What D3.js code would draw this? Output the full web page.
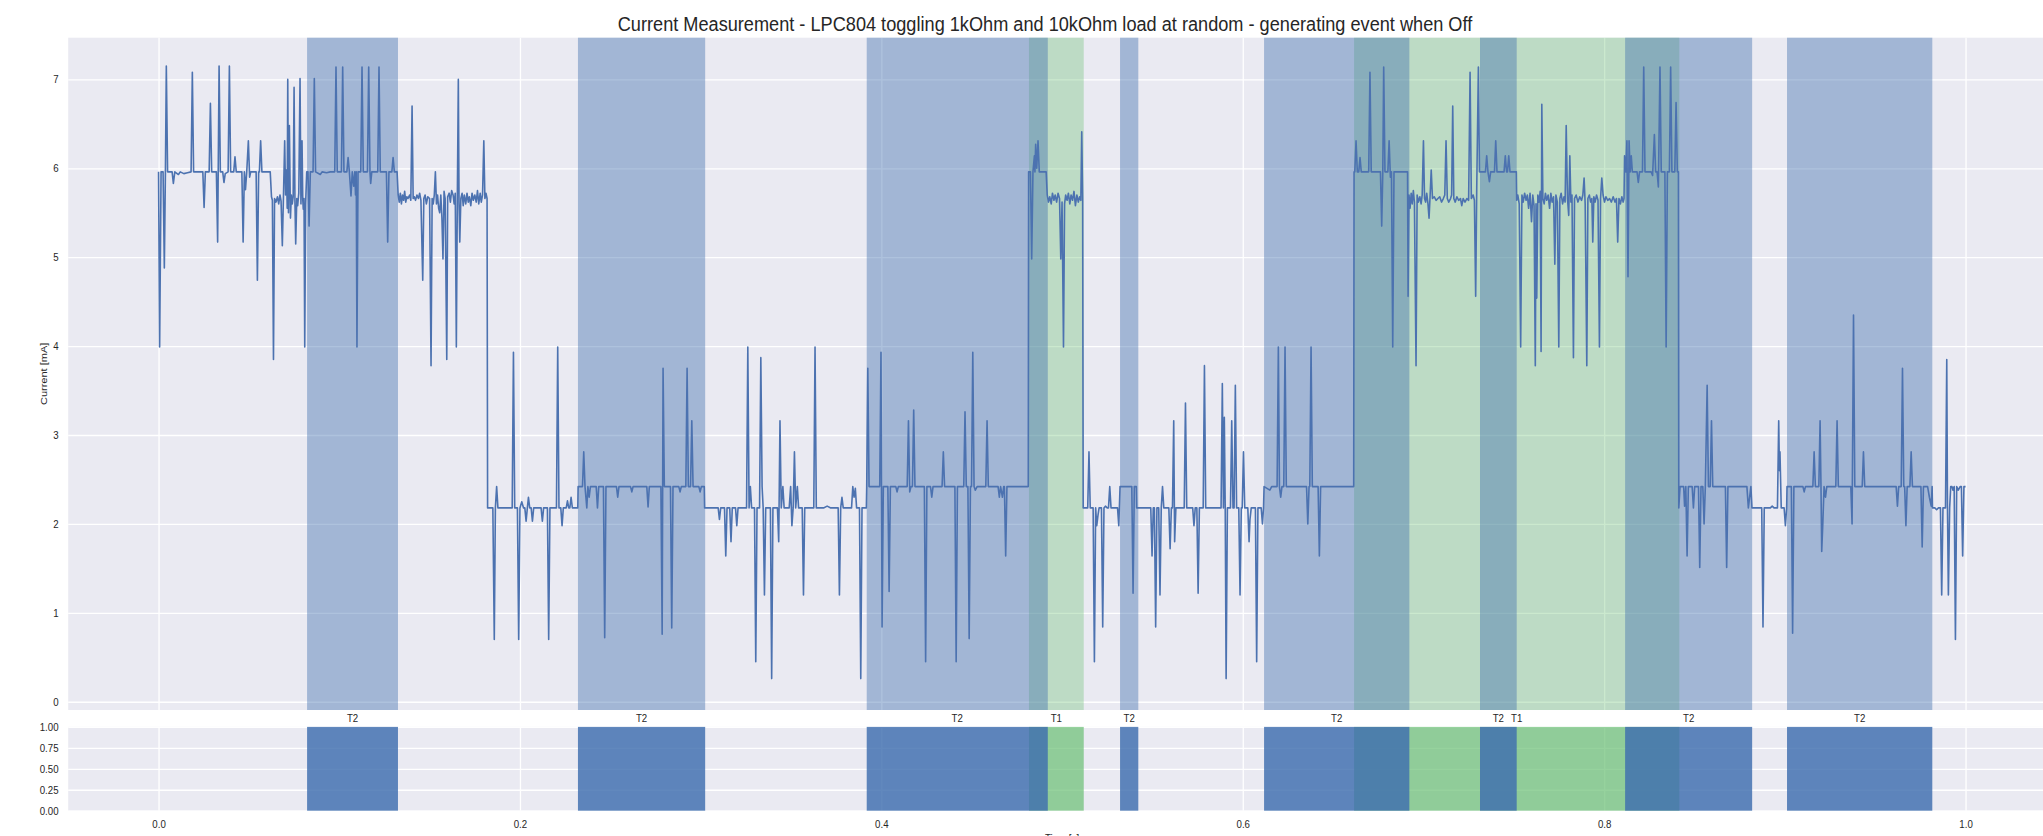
<!DOCTYPE html>
<html>
<head>
<meta charset="utf-8">
<script src="https://cdn.jsdelivr.net/npm/d3@7"></script>
<style>
  html, body { margin: 0; padding: 0; background: #fff; overflow: hidden; }
  svg { display: block; }
  text { font-family: "Liberation Sans", Arial, sans-serif; fill: #262626; }
</style>
</head>
<body>
<svg id="chart" width="2043" height="836"></svg>
<script>
// ---- labels and ticks ----
const chartTitle = "Current Measurement - LPC804 toggling 1kOhm and 10kOhm load at random - generating event when Off";
const xLabel = "Time [s]";
const yLabel = "Current [mA]";
const timeTicks = [0, 0.2, 0.4, 0.6, 0.8, 1.0];
const currentTicks = [0, 1, 2, 3, 4, 5, 6, 7];
const stateTicks = [0, 0.25, 0.5, 0.75, 1.0];

// ---- load switching intervals [start, end] in seconds ----
const t2Spans = [[0.0822, 0.1325], [0.2321, 0.3025], [0.3919, 0.4921], [0.5321, 0.5422],
                 [0.6118, 0.6922], [0.7313, 0.7516], [0.8116, 0.8819], [0.9012, 0.9816]];
const t1Spans = [[0.4817, 0.5120], [0.6616, 0.8416]];

// ---- measured current [s, mA] ----
const trace0 = [
  [0.0000,5.96],[0.0006,3.99],[0.0014,5.96],[0.0025,5.96],[0.0032,4.88],[0.0038,5.96],[0.0043,7.15],[0.0050,5.96],
  [0.0075,5.96],[0.0082,5.83],[0.0090,5.96],[0.0110,5.93],[0.0120,5.96],[0.0140,5.94],[0.0160,5.95],
  [0.0180,5.96],[0.0187,7.08],[0.0194,5.96],[0.0245,5.96],[0.0252,5.56],[0.0259,5.96],
  [0.0280,5.96],[0.0287,6.73],[0.0294,5.96],[0.0320,5.96],[0.0327,5.17],[0.0335,7.15],[0.0342,5.96],
  [0.0355,5.96],[0.0362,5.84],[0.0369,5.94],[0.0385,5.96],[0.0392,7.15],[0.0399,5.96],
  [0.0416,5.96],[0.0423,6.13],[0.0430,5.96],[0.0461,5.96],[0.0468,5.17],[0.0475,5.96],[0.0481,5.76],[0.0488,5.96],
  [0.0497,6.31],[0.0504,5.90],[0.0510,5.96],[0.0540,5.96],[0.0547,4.74],[0.0554,5.96],
  [0.0558,5.96],[0.0565,6.31],[0.0572,5.96],[0.0618,5.96],
  [0.0625,5.68],[0.0630,5.64],[0.0636,3.85],[0.0642,5.66],[0.0650,5.62],[0.0658,5.68],[0.0665,5.60],[0.0672,5.70],
  [0.0678,5.63],[0.0685,5.13],[0.0691,5.66],[0.0698,6.31],[0.0703,5.70],[0.0708,5.98],[0.0712,5.55],[0.0715,7.00],
  [0.0719,5.50],[0.0724,6.48],[0.0730,5.44],[0.0735,5.70],[0.0740,5.60],[0.0745,5.68],[0.0750,6.91],[0.0755,5.60],
  [0.0759,5.15],[0.0765,5.66],[0.0770,5.58],[0.0776,5.72],[0.0783,7.01],[0.0788,5.60],[0.0794,6.31],[0.0798,5.65],
  [0.0801,5.54],[0.0805,5.66],[0.0809,3.99],[0.0814,5.60],
  [0.0820,5.96],[0.0827,5.96],[0.0833,5.35],[0.0840,5.96],[0.0855,5.96],[0.0862,7.01],[0.0869,5.96],[0.0895,5.93],
  [0.0905,5.96],[0.0930,5.95],[0.0950,5.96],[0.0975,5.96],[0.0982,7.14],[0.0989,5.96],[0.1012,5.96],[0.1019,7.14],
  [0.1026,5.96],[0.1042,5.96],[0.1049,6.12],[0.1056,5.96],[0.1065,5.69],[0.1072,5.96],[0.1080,5.80],[0.1086,5.96],
  [0.1090,5.70],[0.1094,5.96],[0.1098,3.99],[0.1104,5.96],[0.1119,5.96],[0.1126,7.14],[0.1133,5.96],[0.1156,5.96],
  [0.1163,7.14],[0.1170,5.96],[0.1174,5.83],[0.1180,5.96],[0.1213,5.96],[0.1220,7.14],[0.1227,5.96],[0.1261,5.96],
  [0.1268,5.17],[0.1275,5.96],[0.1291,5.96],[0.1298,6.12],[0.1305,5.96],[0.1320,5.96],
  [0.1326,5.70],[0.1332,5.62],[0.1338,5.72],[0.1344,5.60],[0.1350,5.70],[0.1356,5.64],[0.1362,5.74],[0.1368,5.62],
  [0.1374,5.68],[0.1380,5.66],[0.1390,5.70],[0.1396,5.64],[0.1403,6.70],[0.1409,5.66],[0.1415,5.68],[0.1422,5.64],
  [0.1430,5.70],[0.1438,5.66],[0.1445,5.72],[0.1452,5.64],[0.1462,4.74],[0.1468,5.66],[0.1475,5.70],[0.1482,5.60],
  [0.1490,5.68],[0.1500,5.66],[0.1508,3.78],[0.1514,5.66],[0.1520,5.60],[0.1526,5.70],[0.1532,5.96],[0.1538,5.60],
  [0.1544,5.70],[0.1550,5.55],[0.1556,5.50],[0.1562,5.70],[0.1568,5.45],[0.1574,4.98],[0.1580,5.74],[0.1586,5.66],
  [0.1595,3.85],[0.1600,5.68],[0.1608,5.72],[0.1615,5.62],[0.1622,5.75],[0.1630,5.70],[0.1636,5.60],[0.1642,5.72],
  [0.1648,3.99],[0.1654,5.80],[0.1659,7.00],[0.1663,5.60],[0.1667,5.17],[0.1673,5.66],[0.1680,5.72],[0.1686,5.58],
  [0.1692,5.70],[0.1700,5.60],[0.1707,5.72],[0.1714,5.62],[0.1720,5.68],[0.1728,5.58],[0.1735,5.72],[0.1742,5.64],
  [0.1750,5.70],[0.1758,5.62],[0.1765,5.75],[0.1772,5.60],[0.1780,5.72],[0.1786,5.62],[0.1793,5.70],[0.1800,6.31],
  [0.1806,5.66],[0.1812,5.72],[0.1818,5.66],
  [0.1821,2.18],[0.1850,2.18],[0.1858,0.70],[0.1864,2.18],[0.1871,2.42],[0.1878,2.18],[0.1957,2.18],[0.1964,3.93],
  [0.1971,2.18],[0.1986,2.18],[0.1993,0.70],[0.2000,2.18]
];
const trace1 = [
  [0.2010,2.25],[0.2020,2.18],[0.2027,2.18],[0.2034,2.03],[0.2041,2.18],[0.2047,2.30],[0.2054,2.18],[0.2062,2.18],
  [0.2069,2.03],[0.2076,2.18],[0.2117,2.18],[0.2124,2.03],[0.2131,2.18],[0.2152,2.18],[0.2159,0.70],[0.2166,2.18],
  [0.2202,2.18],[0.2209,3.99],[0.2216,2.18],[0.2226,2.18],[0.2233,1.98],[0.2240,2.18],[0.2256,2.18],[0.2263,2.26],
  [0.2270,2.18],[0.2276,2.18],[0.2283,2.30],[0.2290,2.18],[0.2320,2.18],
  [0.2322,2.42],[0.2346,2.42],[0.2353,2.81],[0.2360,2.42],[0.2370,2.18],[0.2376,2.42],[0.2383,2.30],[0.2390,2.42],
  [0.2422,2.42],[0.2429,2.18],[0.2436,2.42],[0.2462,2.42],[0.2469,0.72],[0.2476,2.42],[0.2534,2.42],[0.2541,2.30],
  [0.2548,2.42],[0.2612,2.42],[0.2619,2.36],[0.2626,2.42],[0.2702,2.42],[0.2709,2.19],[0.2716,2.42],[0.2780,2.42],
  [0.2787,0.76],[0.2792,3.75],[0.2799,2.42],[0.2833,2.42],[0.2840,0.83],[0.2847,2.42],[0.2879,2.42],[0.2886,2.36],
  [0.2893,2.42],[0.2918,2.42],[0.2925,3.75],[0.2932,2.42],[0.2944,2.42],[0.2951,3.16],[0.2958,2.42],[0.2990,2.42],
  [0.2997,2.36],[0.3004,2.42],[0.3020,2.42],
  [0.3022,2.18],[0.3097,2.18],[0.3104,2.05],[0.3111,2.18],[0.3132,2.18],[0.3139,1.64],[0.3146,2.18],[0.3161,2.18],
  [0.3168,1.80],[0.3175,2.18],[0.3193,2.18],[0.3200,1.98],[0.3207,2.18],[0.3254,2.18],[0.3261,3.99],[0.3268,2.18],
  [0.3275,2.42],[0.3282,2.18],[0.3298,2.18],[0.3305,0.45],[0.3312,2.18],[0.3326,2.18],[0.3333,3.87],[0.3340,2.42],
  [0.3346,2.18],[0.3353,1.20],[0.3360,2.18],[0.3386,2.18],[0.3393,0.26],[0.3400,2.18],[0.3425,2.18],[0.3432,1.80],
  [0.3439,3.16],[0.3446,2.18],[0.3455,2.42],[0.3462,2.18],[0.3490,2.18],[0.3498,2.42],[0.3505,1.98],[0.3512,2.18],
  [0.3519,2.81],[0.3526,2.18],[0.3535,2.42],[0.3542,2.18],[0.3562,2.18],[0.3569,1.20],[0.3576,2.18],[0.3626,2.18],
  [0.3633,3.99],[0.3640,2.18],[0.3680,2.18],[0.3700,2.20],[0.3720,2.18],[0.3761,2.18],[0.3768,1.20],[0.3775,2.18],
  [0.3782,2.30],[0.3789,2.18],[0.3835,2.18],[0.3842,2.42],[0.3849,2.30],[0.3856,2.40],[0.3863,2.18],[0.3879,2.18],
  [0.3886,0.26],[0.3893,2.18],[0.3917,2.18],
  [0.3919,2.42],[0.3925,3.75],[0.3932,2.42],[0.3991,2.42],[0.3998,3.93]
];
const trace2 = [
  [0.4004,0.84],[0.4011,2.42],[0.4036,2.42],[0.4043,1.24],[0.4050,2.42],[0.4080,2.42],[0.4087,2.36],[0.4094,2.42],
  [0.4143,2.42],[0.4150,3.16],[0.4157,2.36],[0.4164,2.42],[0.4172,2.42],[0.4179,3.28],[0.4186,2.42],[0.4238,2.42],
  [0.4245,0.45],[0.4252,2.42],[0.4272,2.42],[0.4279,2.30],[0.4286,2.42],[0.4336,2.42],[0.4343,2.81],[0.4350,2.42],
  [0.4407,2.42],[0.4414,0.45],[0.4421,2.42],[0.4456,2.42],[0.4463,3.26],[0.4470,2.42],[0.4479,2.42],[0.4486,0.71],
  [0.4493,2.42],[0.4499,2.42],[0.4506,3.93],[0.4513,2.42],[0.4520,2.38],[0.4530,2.42],[0.4578,2.42],[0.4585,3.16],
  [0.4592,2.42],[0.4646,2.42],[0.4653,2.30],[0.4660,2.42],[0.4670,2.30],[0.4677,2.42],[0.4681,2.42],[0.4688,1.64],
  [0.4695,2.42],[0.4813,2.42],
  [0.4815,5.96],[0.4825,5.96],[0.4832,4.98],[0.4839,5.96],[0.4847,6.14],[0.4850,5.96],[0.4854,6.27],[0.4860,6.00],
  [0.4867,6.31],[0.4874,5.96],[0.4912,5.96],
  [0.4918,5.70],[0.4925,5.62],[0.4932,5.68],[0.4940,5.60],[0.4947,5.72],[0.4955,5.64],[0.4962,5.70],[0.4970,5.62],
  [0.4978,5.72],[0.4986,5.66],[0.4993,4.98],[0.5000,5.62],[0.5008,3.99],[0.5014,5.60],[0.5020,5.70],[0.5028,5.64],
  [0.5035,5.72],[0.5043,5.60],[0.5050,5.70],[0.5058,5.64],[0.5066,5.74],[0.5074,5.58],[0.5082,5.70],[0.5090,5.62],
  [0.5097,5.68],[0.5104,5.64],[0.5109,6.41],[0.5114,5.66],
  [0.5117,2.18],[0.5142,2.18],[0.5149,2.81],[0.5156,2.18],[0.5172,2.18],[0.5179,0.45],[0.5186,2.18],[0.5192,1.98],
  [0.5199,2.10],[0.5205,2.18],[0.5218,2.18],[0.5225,0.84],[0.5232,2.18],[0.5240,2.20],[0.5250,2.18],[0.5257,2.18],
  [0.5264,2.42],[0.5271,2.18],[0.5307,2.18],[0.5314,1.98],
  [0.5321,2.42],[0.5386,2.42],[0.5393,1.22],[0.5400,2.42],[0.5411,2.42],
  [0.5413,2.18],[0.5491,2.18],[0.5498,1.64],[0.5505,2.18],[0.5511,2.18],[0.5518,0.84],[0.5525,2.18],[0.5535,2.18],
  [0.5542,1.20],[0.5549,2.18],[0.5556,2.42],[0.5563,2.18],[0.5591,2.18],[0.5598,1.72],[0.5605,2.18],[0.5611,2.18],
  [0.5618,3.16],[0.5623,1.80],[0.5630,2.18],[0.5676,2.18],[0.5683,3.36],[0.5690,2.18],[0.5723,2.18],[0.5730,1.98],
  [0.5737,2.18],[0.5746,2.18],[0.5753,1.22],[0.5760,2.18],[0.5781,2.18],[0.5788,3.78],[0.5795,2.18],[0.5880,2.18],
  [0.5887,3.58],[0.5893,2.18],[0.5898,3.20],[0.5903,2.18],[0.5908,0.26],[0.5915,2.18],[0.5932,2.18],[0.5939,3.16],
  [0.5946,2.18],[0.5952,2.18],[0.5959,3.56],[0.5966,2.18],[0.5978,2.18],[0.5985,1.20],[0.5992,2.18],[0.5997,2.18]
];
const trace3 = [
  [0.6004,2.81],[0.6011,2.18],[0.6028,2.18],[0.6035,1.80],[0.6040,2.05],[0.6047,2.18],[0.6070,2.18],[0.6077,0.45],
  [0.6084,2.18],[0.6102,2.18],[0.6109,2.00],[0.6115,2.18],
  [0.6118,2.42],[0.6150,2.38],[0.6160,2.42],[0.6190,2.42],[0.6197,3.99],[0.6203,2.42],[0.6210,2.30],[0.6217,2.42],
  [0.6227,2.42],[0.6234,3.99],[0.6241,2.42],[0.6353,2.42],[0.6360,2.00],[0.6367,2.42],[0.6371,2.42],[0.6378,3.99],
  [0.6385,2.42],[0.6417,2.42],[0.6424,1.64],[0.6431,2.42],[0.6614,2.42],
  [0.6616,5.96],[0.6620,5.96],[0.6627,6.31],[0.6634,5.96],[0.6642,5.96],[0.6649,6.12],[0.6656,5.96],[0.6697,5.96],
  [0.6704,7.08],[0.6711,5.96],[0.6762,5.96],[0.6769,5.35],[0.6775,5.96],[0.6780,7.14],[0.6787,5.96],[0.6803,5.96],
  [0.6810,6.31],[0.6817,5.90],[0.6823,5.96],[0.6830,3.99],[0.6837,5.96],[0.6912,5.96],
  [0.6915,4.56],[0.6920,5.70],[0.6926,5.55],[0.6932,5.72],[0.6938,5.60],[0.6944,5.75],[0.6950,5.62],[0.6959,3.78],
  [0.6965,5.70],[0.6972,5.62],[0.6980,5.68],[0.6987,5.60],[0.6993,5.70],[0.7000,6.31],[0.7006,5.66],[0.7012,5.62],
  [0.7018,5.72],[0.7025,5.60],[0.7031,5.44],[0.7037,5.70],[0.7043,5.98],[0.7050,5.66],[0.7060,5.68],[0.7070,5.64],
  [0.7080,5.66],[0.7090,5.68],[0.7100,5.62],[0.7110,5.66],[0.7118,5.70],[0.7125,6.31],[0.7132,5.66],[0.7140,5.62],
  [0.7150,5.66],[0.7156,5.70],[0.7162,6.70],[0.7168,5.66],[0.7176,5.62],[0.7185,5.68],[0.7195,5.64],[0.7205,5.66],
  [0.7212,5.58],[0.7220,5.66],[0.7230,5.62],[0.7240,5.66],[0.7250,5.64],[0.7258,7.08],[0.7265,5.66],[0.7275,5.70],
  [0.7282,5.64],[0.7289,4.56],[0.7295,5.80],[0.7304,7.14],[0.7310,5.96],
  [0.7320,5.96],[0.7343,5.96],[0.7350,6.14],[0.7357,5.96],[0.7365,5.85],[0.7372,5.96],[0.7393,5.96],[0.7400,6.31],
  [0.7407,5.96],[0.7446,5.96],[0.7453,6.14],[0.7460,5.96],[0.7465,5.96],[0.7472,6.14],[0.7479,5.96],[0.7514,5.96],
  [0.7516,5.64],[0.7522,5.70],[0.7530,5.60],[0.7538,3.99],[0.7545,5.70],[0.7552,5.62],[0.7560,5.72],[0.7568,5.64],
  [0.7575,5.70],[0.7582,5.55],[0.7590,5.72],[0.7598,5.40],[0.7605,5.70],[0.7612,5.58],[0.7619,3.78],[0.7623,5.60],
  [0.7627,4.54],[0.7633,5.70],[0.7640,5.62],[0.7646,5.74],[0.7651,3.94],[0.7655,6.72],[0.7661,5.66],[0.7668,5.60],
  [0.7675,5.72],[0.7682,5.64],[0.7690,5.70],[0.7698,5.55],[0.7705,5.72],[0.7712,5.62],[0.7720,5.68],[0.7727,4.92],
  [0.7733,5.70],[0.7741,5.62],[0.7749,3.99],[0.7755,5.66],[0.7762,5.72],[0.7770,5.60],[0.7778,5.68],[0.7784,5.62],
  [0.7790,6.48],[0.7797,5.66],[0.7804,5.47],[0.7810,6.14],[0.7816,5.62],[0.7822,5.70],[0.7830,3.87],[0.7836,5.66],
  [0.7845,5.70],[0.7855,5.62],[0.7865,5.68],[0.7875,5.64],[0.7882,5.70],[0.7889,5.89],[0.7895,5.60],[0.7904,3.78],
  [0.7910,5.66],[0.7918,5.70],[0.7925,5.62],[0.7932,5.66],[0.7937,5.17],[0.7943,5.68],[0.7950,5.62],[0.7958,5.70],
  [0.7966,5.64],[0.7974,3.99],[0.7980,5.66],[0.7987,5.89],[0.7994,5.70]
];
const trace4 = [
  [0.8002,5.62],[0.8010,5.68],[0.8020,5.64],[0.8030,5.66],[0.8040,5.62],[0.8050,5.68],[0.8060,5.62],[0.8068,5.66],
  [0.8075,5.17],[0.8082,5.66],[0.8090,5.60],[0.8098,5.68],[0.8105,5.62],[0.8110,5.66],
  [0.8113,6.14],[0.8120,5.96],[0.8126,6.31],[0.8132,4.78],[0.8138,6.31],[0.8144,5.96],[0.8150,6.14],[0.8156,5.96],
  [0.8182,5.96],[0.8189,5.84],[0.8196,5.96],[0.8212,5.96],[0.8219,7.14],[0.8226,5.96],[0.8260,5.96],[0.8268,5.92],
  [0.8278,6.38],[0.8285,5.96],[0.8293,5.96],[0.8300,5.79],[0.8309,7.14],[0.8316,5.96],[0.8336,5.96],[0.8343,3.99],
  [0.8350,5.96],[0.8361,5.96],[0.8368,7.14],[0.8375,5.96],[0.8391,5.96],[0.8398,6.74],[0.8405,5.96],[0.8411,5.96],
  [0.8413,2.18],[0.8420,2.42],[0.8440,2.42],[0.8445,2.20],[0.8452,2.42],[0.8459,1.64],[0.8466,2.42],[0.8487,2.42],
  [0.8494,2.18],[0.8501,2.42],[0.8522,2.42],[0.8529,1.51],[0.8536,2.42],[0.8546,2.42],[0.8553,2.00],[0.8560,2.42],
  [0.8570,3.56],[0.8577,2.42],[0.8587,2.42],[0.8594,3.16],[0.8601,2.42],[0.8671,2.42],[0.8678,1.51],[0.8685,2.42],
  [0.8790,2.42],[0.8798,2.18],[0.8805,2.30],[0.8812,2.42],
  [0.8818,2.18],[0.8872,2.18],[0.8879,0.84],[0.8886,2.18],[0.8920,2.18],[0.8930,2.20],[0.8940,2.18],[0.8959,2.18],
  [0.8966,3.16],[0.8970,2.60],[0.8973,2.81],[0.8980,2.18],[0.8996,2.18],[0.9003,1.98],[0.9010,2.18],
  [0.9012,2.42],[0.9036,2.42],[0.9043,0.77],[0.9050,2.42],[0.9100,2.42],[0.9107,2.36],[0.9114,2.42],[0.9155,2.42],
  [0.9162,2.81],[0.9169,2.42],[0.9188,2.42],[0.9195,3.16],[0.9200,2.42],[0.9204,1.69],[0.9210,2.00],[0.9217,2.42],
  [0.9225,2.30],[0.9232,2.42],[0.9282,2.42],[0.9289,3.16],[0.9296,2.42],[0.9365,2.42],[0.9372,2.00],[0.9380,4.35],
  [0.9387,2.42],[0.9428,2.42],[0.9435,2.81],[0.9442,2.42],[0.9616,2.42],[0.9623,2.20],[0.9630,2.42],[0.9644,2.42],
  [0.9651,3.75],[0.9658,2.42],[0.9663,2.42],[0.9670,1.98],[0.9677,2.42],[0.9692,2.42],[0.9699,2.81],[0.9706,2.42],
  [0.9753,2.42],[0.9760,1.74],[0.9767,2.42],[0.9790,2.42],[0.9800,2.30],[0.9810,2.20],[0.9815,2.42],
  [0.9817,2.18],[0.9830,2.18],[0.9840,2.16],[0.9850,2.18],[0.9861,2.18],[0.9868,1.20],[0.9875,2.18],[0.9889,2.18],
  [0.9896,3.85],[0.9900,2.18],[0.9905,1.20],[0.9912,2.18],[0.9918,2.42],[0.9925,2.42],[0.9930,2.38],[0.9937,2.42],
  [0.9944,0.70],[0.9951,2.42],[0.9960,2.38],[0.9970,2.42],[0.9977,2.42],[0.9984,1.64],[0.9991,2.42],[1.0000,2.42]
];
const trace = [...trace0, ...trace1, ...trace2, ...trace3, ...trace4];

// ---- layout ----
const svg = d3.select("#chart");
const TEXT_SQUEEZE = 0.88;
const bg = "#EAEAF2";
const lineBlue = "#4C72B0";
const spanBlue = "#3E6EAF";
const spanGreen = "#6ABF74";

const x = d3.scaleLinear().domain([-0.05, 1.05]).range([68.2, 2055.9]);
const yTop = d3.scaleLinear().domain([-0.093, 7.469]).range([710, 37.7]);
const yBot = d3.scaleLinear().domain([0, 1]).range([810.7, 726.9]);

const plotL = x.range()[0], plotW = x.range()[1] - x.range()[0];

function panel(yScale, ticks, fmt, spanOpacityBlue, spanOpacityGreen) {
  const g = svg.append("g");
  const [y0, y1] = yScale.range();
  g.append("rect").attr("x", plotL).attr("y", y1).attr("width", plotW).attr("height", y0 - y1).attr("fill", bg);

  // grid
  const gx = g.append("g").attr("transform", `translate(0,${y0})`)
    .call(d3.axisBottom(x).tickValues(timeTicks).tickSize(-(y0 - y1)).tickFormat(""));
  const gy = g.append("g").attr("transform", `translate(${plotL},0)`)
    .call(d3.axisLeft(yScale).tickValues(ticks).tickSize(-plotW).tickFormat(""));
  [gx, gy].forEach(a => {
    a.select(".domain").remove();
    a.selectAll(".tick line").attr("stroke", "#fff").attr("stroke-width", 1.3);
  });

  // intervals: T1 underneath, T2 on top
  g.append("g").selectAll("rect").data(t1Spans).join("rect")
    .attr("x", d => x(d[0])).attr("width", d => x(d[1]) - x(d[0]))
    .attr("y", y1).attr("height", y0 - y1)
    .attr("fill", spanGreen).attr("fill-opacity", spanOpacityGreen);
  g.append("g").selectAll("rect").data(t2Spans).join("rect")
    .attr("x", d => x(d[0])).attr("width", d => x(d[1]) - x(d[0]))
    .attr("y", y1).attr("height", y0 - y1)
    .attr("fill", spanBlue).attr("fill-opacity", spanOpacityBlue);

  // tick labels
  const ay = g.append("g").attr("transform", `translate(${plotL},0)`)
    .call(d3.axisLeft(yScale).tickValues(ticks).tickSize(0).tickPadding(11).tickFormat(fmt));
  ay.select(".domain").remove();
  ay.selectAll(".tick text")
    .attr("font-size", 11).attr("fill", "#262626")
    .style("font-family", '"Liberation Sans", Arial, sans-serif')
    .attr("transform", `scale(${TEXT_SQUEEZE},1)`);
  return g;
}

// upper panel: current trace
panel(yTop, currentTicks, d3.format("d"), 0.42, 0.35);
svg.append("path")
  .datum(trace)
  .attr("fill", "none")
  .attr("stroke", lineBlue)
  .attr("stroke-width", 1.6)
  .attr("stroke-linejoin", "round")
  .attr("d", d3.line().x(d => x(d[0])).y(d => yTop(d[1])));

// lower panel: interval states
panel(yBot, stateTicks, d3.format(".2f"), 0.82, 0.7);

const ax = svg.append("g").attr("transform", `translate(0,${yBot.range()[0]})`)
  .call(d3.axisBottom(x).tickValues(timeTicks).tickSize(0).tickPadding(10).tickFormat(d3.format(".1f")));
ax.select(".domain").remove();
ax.selectAll(".tick text")
  .attr("font-size", 11).attr("fill", "#262626")
  .style("font-family", '"Liberation Sans", Arial, sans-serif')
  .attr("transform", `scale(${TEXT_SQUEEZE},1)`);

// interval labels between the panels
const spanLabels = [
  ...t2Spans.map(s => ({ mid: (s[0] + s[1]) / 2, name: "T2" })),
  ...t1Spans.map(s => ({ mid: (s[0] + s[1]) / 2, name: "T1" }))
];
svg.append("g").selectAll("text").data(spanLabels).join("text")
  .attr("transform", d => `translate(${x(d.mid)},721.8) scale(${TEXT_SQUEEZE},1)`)
  .attr("text-anchor", "middle").attr("font-size", 11)
  .text(d => d.name);

// title and axis labels
svg.append("text")
  .attr("transform", `translate(1045,31) scale(0.865,1)`)
  .attr("text-anchor", "middle").attr("font-size", 21)
  .text(chartTitle);

svg.append("text")
  .attr("transform", `translate(47,${(yTop.range()[0] + yTop.range()[1]) / 2}) rotate(-90) scale(1,${TEXT_SQUEEZE})`)
  .attr("text-anchor", "middle").attr("font-size", 11)
  .text(yLabel);

svg.append("text")
  .attr("transform", `translate(${(x.range()[0] + x.range()[1]) / 2},842) scale(${TEXT_SQUEEZE},1)`)
  .attr("text-anchor", "middle").attr("font-size", 11)
  .text(xLabel);
</script>
</body>
</html>
